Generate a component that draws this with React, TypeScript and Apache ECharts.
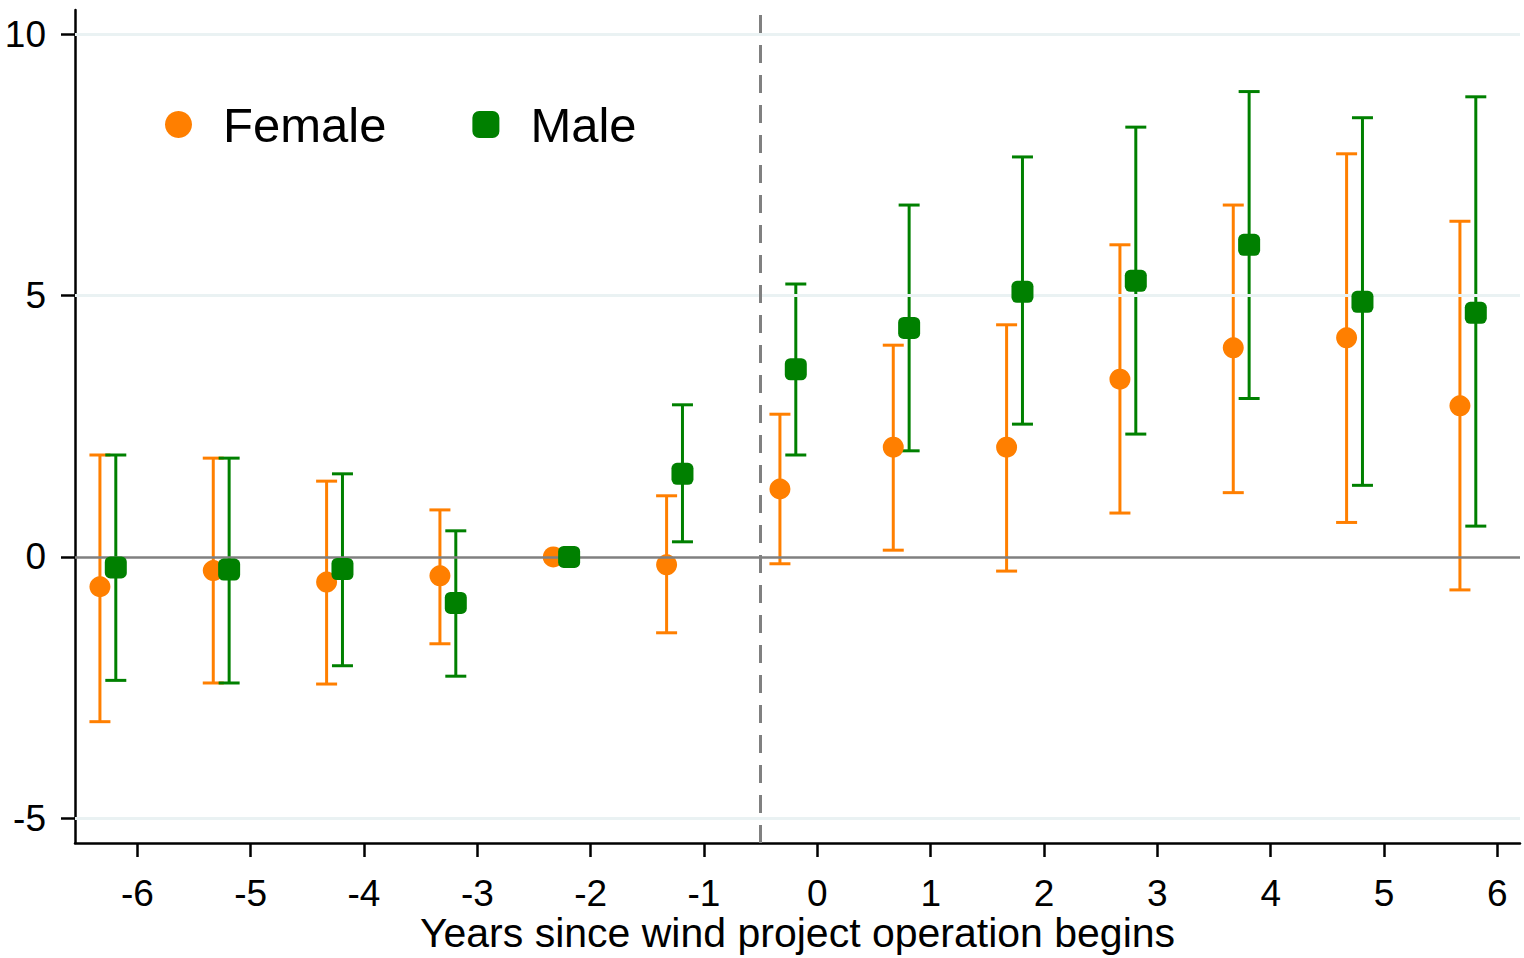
import React, { useEffect, useRef } from "react";
import * as echarts from "echarts";

// Event-study periods (years since wind project operation begins)
const periods = [-6, -5, -4, -3, -2, -1, 0, 1, 2, 3, 4, 5, 6];

// Female estimates and 95% CI
const femalePoint = [-0.57, -0.26, -0.48, -0.36, 0, -0.15, 1.3, 2.1, 2.1, 3.4, 4.0, 4.19, 2.89];
const femaleLow = [-3.15, -2.41, -2.43, -1.66, null, -1.45, -0.13, 0.13, -0.27, 0.84, 1.23, 0.66, -0.63];
const femaleHigh = [1.95, 1.89, 1.45, 0.9, null, 1.17, 2.73, 4.05, 4.44, 5.97, 6.73, 7.71, 6.42];

// Male estimates and 95% CI
const malePoint = [-0.2, -0.24, -0.23, -0.88, 0, 1.59, 3.59, 4.38, 5.07, 5.28, 5.97, 4.88, 4.67];
const maleLow = [-2.36, -2.41, -2.08, -2.28, null, 0.29, 1.95, 2.03, 2.54, 2.35, 3.03, 1.37, 0.59];
const maleHigh = [1.95, 1.89, 1.59, 0.5, null, 2.91, 5.22, 6.73, 7.65, 8.22, 8.9, 8.4, 8.8];

const xTicks = [-6, -5, -4, -3, -2, -1, 0, 1, 2, 3, 4, 5, 6];
const yTicks = [-5, 0, 5, 10];

const FEMALE_OFFSET = -0.33;
const MALE_OFFSET = -0.19;

const ORANGE = "#FF7F00";
const GREEN = "#008000";
const FONT = "Liberation Sans, Arial, sans-serif";

function ciData(low: (number | null)[], high: (number | null)[], offset: number) {
  const out: number[][] = [];
  periods.forEach((p, i) => {
    if (low[i] != null && high[i] != null) out.push([p + offset, low[i] as number, high[i] as number]);
  });
  return out;
}

function ptData(vals: number[], offset: number) {
  return periods.map((p, i) => [p + offset, vals[i]]);
}

function errorBarSeries(name: string, data: number[][], color: string) {
  return {
    type: "custom",
    name,
    data,
    encode: { x: 0, y: [1, 2] },
    silent: true,
    z: 3,
    renderItem: (params: any, api: any) => {
      const x = api.value(0);
      const lo = api.coord([x, api.value(1)]);
      const hi = api.coord([x, api.value(2)]);
      const half = 10.5;
      const style = { stroke: color, lineWidth: 3 };
      return {
        type: "group",
        children: [
          { type: "line", shape: { x1: lo[0], y1: lo[1], x2: hi[0], y2: hi[1] }, style },
          { type: "line", shape: { x1: lo[0] - half, y1: lo[1], x2: lo[0] + half, y2: lo[1] }, style },
          { type: "line", shape: { x1: hi[0] - half, y1: hi[1], x2: hi[0] + half, y2: hi[1] }, style },
        ],
      };
    },
  };
}

export default function App() {
  const ref = useRef<HTMLDivElement>(null);
  useEffect(() => {
    if (!ref.current) return;
    const chart = echarts.init(ref.current, null, { renderer: "svg" });
    chart.setOption({
      animation: false,
      backgroundColor: "#ffffff",
      grid: { left: 75, right: 4, top: 10, bottom: 115, containLabel: false, outerBoundsMode: "none" },
      legend: {
        data: [
          { name: "Female", icon: "circle" },
          { name: "Male", icon: "roundRect" },
        ],
        left: 160,
        top: 95,
        itemWidth: 27,
        itemHeight: 27,
        itemGap: 86,
        selectedMode: false,
        textStyle: { fontSize: 49, fontFamily: FONT, color: "#000", padding: [0, 0, 0, 26] },
      },
      xAxis: {
        type: "value",
        min: -6.55,
        max: 6.2,
        name: "Years since wind project operation begins",
        nameLocation: "middle",
        nameGap: 69,
        nameMoveOverlap: false,
        nameTextStyle: { fontSize: 41, lineHeight: 41, fontFamily: FONT, color: "#000" },
        axisLine: { show: true, onZero: false, lineStyle: { color: "#000", width: 2.5 } },
        axisTick: { show: true, length: 14, customValues: xTicks, lineStyle: { color: "#000", width: 2.5 } },
        axisLabel: { customValues: xTicks, fontSize: 37, lineHeight: 36, fontFamily: FONT, color: "#000", margin: 32 },
        splitLine: { show: false },
      },
      yAxis: {
        type: "value",
        min: -5.47,
        max: 10.46,
        axisLine: { show: true, onZero: false, lineStyle: { color: "#000", width: 2.5 } },
        axisTick: { show: true, length: 14, customValues: yTicks, lineStyle: { color: "#000", width: 2.5 } },
        axisLabel: { customValues: yTicks, fontSize: 37, fontFamily: FONT, color: "#000", margin: 29 },
        splitLine: { show: false },
      },
      series: [
        {
          type: "line",
          name: "refs",
          data: [],
          silent: true,
          z: 1,
          markLine: {
            silent: true,
            symbol: "none",
            label: { show: false },
            data: [
              { yAxis: -5, lineStyle: { color: "#EAF2F3", width: 3, type: "solid" } },
              { yAxis: 5, lineStyle: { color: "#EAF2F3", width: 3, type: "solid" } },
              { yAxis: 10, lineStyle: { color: "#EAF2F3", width: 3, type: "solid" } },
              { yAxis: 0, lineStyle: { color: "#808080", width: 2.5, type: "solid" } },
              { xAxis: -0.5, lineStyle: { color: "#808080", width: 3, type: [18, 12] } },
            ],
          },
        },
        errorBarSeries("Female CI", ciData(femaleLow, femaleHigh, FEMALE_OFFSET), ORANGE),
        errorBarSeries("Male CI", ciData(maleLow, maleHigh, MALE_OFFSET), GREEN),
        {
          type: "scatter",
          name: "Female",
          data: ptData(femalePoint, FEMALE_OFFSET),
          symbol: "circle",
          symbolSize: 21,
          itemStyle: { color: ORANGE, opacity: 1 },
          z: 4,
        },
        {
          type: "scatter",
          name: "Male",
          data: ptData(malePoint, MALE_OFFSET),
          symbol: "roundRect",
          symbolSize: 22,
          itemStyle: { color: GREEN, opacity: 1 },
          z: 5,
        },
      ],
    });
    return () => chart.dispose();
  }, []);
  return (
    <div
      ref={ref}
      style={{ position: "fixed", left: 0, top: 0, width: 1524, height: 958, background: "#fff" }}
    />
  );
}
